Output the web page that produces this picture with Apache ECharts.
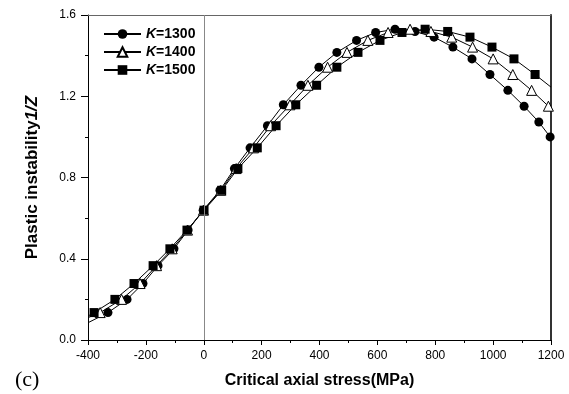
<!DOCTYPE html>
<html style="height: 100%">
<head>
    <meta charset="utf-8">
</head>
<body style="height: 100%; margin: 0; background: #fff">
<div id="container" style="width: 569px; height: 394px"></div>
<script src="https://cdn.jsdelivr.net/npm/echarts@6/dist/echarts.min.js"></script>
<script>
    // x = critical axial stress (MPa), y = plastic instability 1/Z
    var k1300 = [[-400, 0.085], [-331, 0.135], [-265, 0.2], [-210, 0.278], [-158, 0.366], [-103, 0.449], [-54, 0.541],
        [-2, 0.639], [56, 0.737], [106, 0.844], [160, 0.946], [220, 1.055], [275, 1.158], [336, 1.254],
        [398, 1.343], [460, 1.416], [528, 1.475], [594, 1.514], [661, 1.530], [730, 1.519], [796, 1.491],
        [861, 1.442], [927, 1.384], [989, 1.307], [1051, 1.229], [1107, 1.151], [1158, 1.073], [1197, 1.0]];
    var k1400 = [[-400, 0.11], [-358, 0.135], [-284, 0.2], [-220, 0.278], [-163, 0.366], [-109, 0.449], [-56, 0.541],
        [-1, 0.639], [59, 0.737], [112, 0.844], [172, 0.946], [231, 1.055], [298, 1.158], [360, 1.254],
        [428, 1.343], [495, 1.416], [567, 1.475], [637, 1.514], [713, 1.530], [785, 1.519], [857, 1.491],
        [929, 1.442], [1000, 1.384], [1068, 1.307], [1133, 1.229], [1191, 1.151], [1200, 1.14]];
    var k1500 = [[-400, 0.118], [-379, 0.135], [-307, 0.2], [-241, 0.278], [-175, 0.366], [-117, 0.449], [-58, 0.541],
        [1, 0.639], [62, 0.737], [118, 0.844], [185, 0.946], [250, 1.055], [318, 1.158], [390, 1.254],
        [460, 1.343], [533, 1.416], [609, 1.475], [685, 1.514], [765, 1.530], [843, 1.519], [920, 1.491],
        [996, 1.442], [1072, 1.384], [1145, 1.307], [1200, 1.245]];
    var seriesNames = ['K=1300', 'K=1400', 'K=1500'];
    var xTicks = [-400, 1200, 200];
    var yTicks = [0, 1.6, 0.4];

    // first and last points are only the curve running to the frame, no marker
    function withEnds(arr) {
        return arr.map(function (p, i) {
            if (i === 0 && p[0] === xTicks[0]) return {value: p, symbol: 'none'};
            if (i === arr.length - 1 && p[0] === xTicks[1]) return {value: p, symbol: 'none'};
            return p;
        });
    }

    var dom = document.getElementById("container");
    var myChart = echarts.init(dom);
    var font = 'Liberation Sans, Arial, sans-serif';

    function makeSeries(name, data, symbol, size, fill) {
        return {
            name: name,
            type: 'line',
            data: withEnds(data),
            symbol: symbol,
            symbolSize: size,
            showSymbol: true,
            clip: true,
            lineStyle: {color: '#000', width: 1},
            itemStyle: {color: fill, borderColor: '#000', borderWidth: symbol === 'triangle' ? 1 : 0},
            emphasis: {disabled: true},
            z: 3
        };
    }

    var series = [
        makeSeries(seriesNames[0], k1300, 'circle', 9, '#000'),
        makeSeries(seriesNames[1], k1400, 'triangle', 10, '#fff'),
        makeSeries(seriesNames[2], k1500, 'rect', 9, '#000')
    ];
    series[0].markLine = {
        silent: true,
        symbol: 'none',
        label: {show: false},
        lineStyle: {color: '#888', width: 1, type: 'solid'},
        data: [{xAxis: 0}]
    };

    var option = {
        animation: false,
        textStyle: {fontFamily: font},
        grid: {left: 88, right: 18, top: 15, bottom: 51},
        legend: {
            data: seriesNames,
            orient: 'vertical',
            left: 98,
            top: 22,
            itemWidth: 37,
            itemHeight: 12,
            itemGap: 4,
            formatter: function (name) {
                return '{i|K}{n|' + name.slice(1) + '}';
            },
            textStyle: {
                rich: {
                    i: {fontFamily: font, fontSize: 14, fontWeight: 'bold', fontStyle: 'italic', color: '#000'},
                    n: {fontFamily: font, fontSize: 14, fontWeight: 'bold', color: '#000'}
                }
            }
        },
        xAxis: [{
            type: 'value',
            min: xTicks[0], max: xTicks[1], interval: xTicks[2],
            name: 'Critical axial stress(MPa)',
            nameLocation: 'middle',
            nameGap: 33,
            nameTextStyle: {fontFamily: font, fontSize: 16, fontWeight: 'bold', color: '#000'},
            axisLine: {onZero: false, lineStyle: {color: '#000', width: 1}},
            axisTick: {inside: false, length: 5, lineStyle: {color: '#000'}},
            minorTick: {show: true, splitNumber: 2, length: 3, lineStyle: {color: '#000'}},
            splitLine: {show: false},
            axisLabel: {
                fontFamily: font, fontSize: 12, color: '#000', margin: 10,
                formatter: function (v) { return String(v); }
            }
        }, {
            type: 'value', position: 'top',
            min: xTicks[0], max: xTicks[1],
            axisLine: {show: true, onZero: false, lineStyle: {color: '#666', width: 1}},
            axisTick: {show: false}, axisLabel: {show: false}, splitLine: {show: false}
        }],
        yAxis: [{
            type: 'value',
            min: yTicks[0], max: yTicks[1], interval: yTicks[2],
            name: '{a|Plastic instability}{b|1/Z}',
            nameLocation: 'middle',
            nameGap: 47,
            nameTextStyle: {
                rich: {
                    a: {fontFamily: font, fontSize: 17, fontWeight: 'bold', color: '#000'},
                    b: {fontFamily: font, fontSize: 17, fontWeight: 'bold', fontStyle: 'italic', color: '#000'}
                }
            },
            axisLine: {show: true, onZero: false, lineStyle: {color: '#000', width: 1}},
            axisTick: {inside: false, length: 7, lineStyle: {color: '#000'}},
            minorTick: {show: true, splitNumber: 2, length: 3, lineStyle: {color: '#000'}},
            splitLine: {show: false},
            axisLabel: {
                fontFamily: font, fontSize: 12, color: '#000', margin: 12,
                formatter: function (v) { return v.toFixed(1); }
            }
        }, {
            type: 'value', position: 'right',
            min: yTicks[0], max: yTicks[1],
            axisLine: {show: true, onZero: false, lineStyle: {color: '#333', width: 2}},
            axisTick: {show: false}, axisLabel: {show: false}, splitLine: {show: false}
        }],
        graphic: [{
            type: 'text',
            left: 15,
            top: 369,
            style: {text: '(c)', font: '22px "Liberation Serif", serif', fill: '#000'}
        }],
        series: series
    };
    if (option && typeof option === "object") {
        myChart.setOption(option, true);
    }
</script>
</body>
</html>
